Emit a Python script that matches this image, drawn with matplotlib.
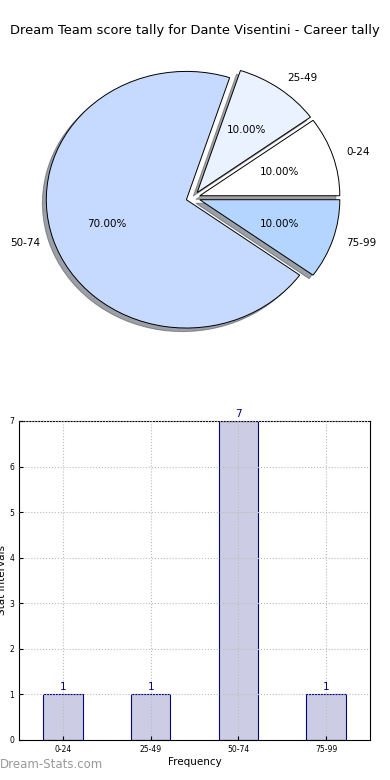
import matplotlib
matplotlib.use('Agg')
import matplotlib.pyplot as plt

intervals = ['0-24', '25-49', '50-74', '75-99']
counts = [1, 1, 7, 1]
pie_colors = ['#FFFFFF', '#EAF1FF', '#C6D9FF', '#B3D5FF']
title = 'Dream Team score tally for Dante Visentini - Career tally'

fig = plt.figure(figsize=(3.9, 7.8), dpi=100)
fig.text(0.5, 0.961, title, ha='center', va='center', fontsize=9.4)

# pie (old style, not forced round)
ax1 = fig.add_axes([0.064, 0.531, 0.862, 0.431])
ax1.pie(counts, labels=intervals, colors=pie_colors, autopct='%.2f%%',
        explode=[0.05] * 4, shadow=True, startangle=0, counterclock=True,
        pctdistance=0.6, labeldistance=1.1,
        wedgeprops={'edgecolor': 'black', 'linewidth': 0.7},
        textprops={'fontsize': 7.5})
ax1.set_aspect('auto')
ax1.set_xlim(-1.2, 1.2)
ax1.set_ylim(-1.31, 1.31)

# bars
ax2 = fig.add_axes([0.049, 0.0513, 0.9, 0.409])
x = range(len(intervals))
ax2.bar(x, counts, width=0.45, color='#CCCCE5', edgecolor='navy', linewidth=0.8)
for i, c in zip(x, counts):
    ax2.text(i, c + 0.05, str(c), ha='center', va='bottom', color='navy', fontsize=7.5)
ax2.set_xlim(-0.5, 3.5)
ax2.set_ylim(0, 7)
ax2.set_xticks(list(x))
ax2.set_xticklabels(intervals)
ax2.set_yticks(range(8))
ax2.tick_params(labelsize=5.5, length=3, direction='in')
ax2.set_axisbelow(False)
ax2.grid(True, linestyle=':', color='#BBBBBB', linewidth=0.8)
ax2.set_xlabel('Frequency', fontsize=7.5, labelpad=2)
ax2.set_ylabel('Stat intervals', fontsize=7.5, labelpad=2)

fig.text(0.0, 0.011, 'Dream-Stats.com', color='#999999', fontsize=8.5, ha='left', va='bottom')

fig.savefig('out.png', dpi=100)
